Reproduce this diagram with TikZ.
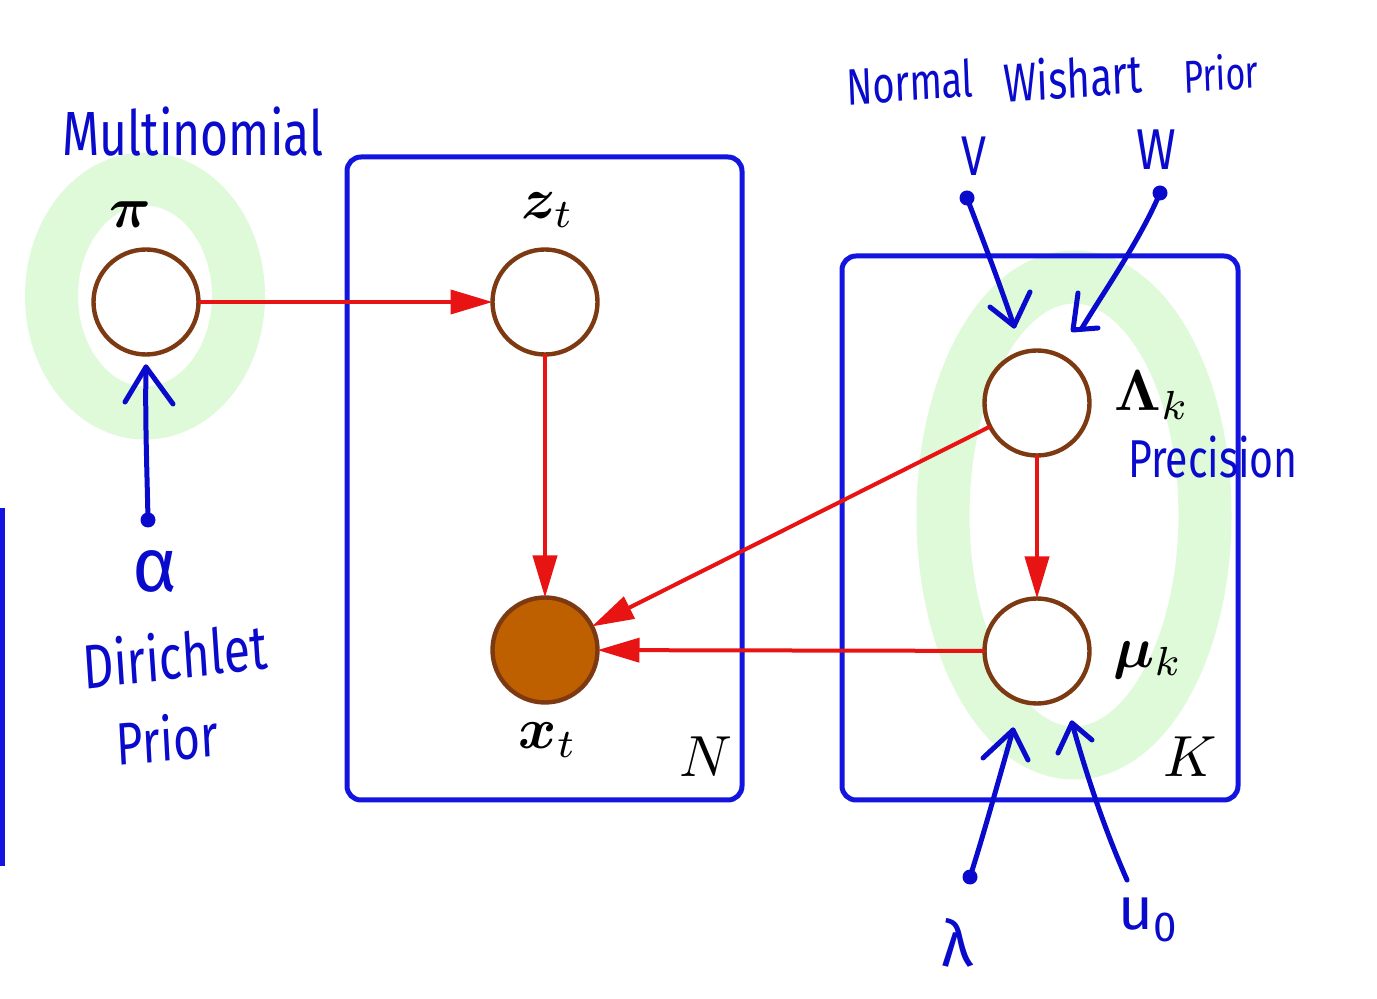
\documentclass[tikz,border=0pt]{standalone}
\usepackage{amsmath,bm}
\usepackage[no-math]{fontspec}
\newfontfamily\handfont{Fira Sans}
\usetikzlibrary{arrows.meta}
\definecolor{plateblue}{RGB}{20,20,225}
\definecolor{handblue}{RGB}{10,10,205}
\definecolor{ringgreen}{RGB}{222,250,216}
\definecolor{nodebrown}{RGB}{125,58,18}
\definecolor{obsfill}{RGB}{191,96,0}
\definecolor{edgered}{RGB}{232,20,20}
\begin{document}
\begin{tikzpicture}[x=0.5pt,y=-0.5pt,
  latent/.style={circle, draw=nodebrown, line width=2.2pt, fill=white, minimum size=52.5pt, inner sep=0pt, outer sep=0pt},
  observed/.style={latent, fill=obsfill},
  lbl/.style={scale=2.9, inner sep=0pt},
  plate/.style={draw=plateblue, line width=2.5pt, rounded corners=7pt},
  ring/.style={draw=ringgreen, line width=26.5pt},
  edge/.style={draw=edgered, line width=2pt, -{Triangle[length=21pt,width=12pt]}},
  hand/.style={text=handblue, inner sep=0pt, font=\handfont\fontsize{#1}{#1}\selectfont},
  stroke/.style={draw=handblue, line width=2.5pt, line cap=round, line join=round},
  handdot/.style={circle, fill=handblue, minimum size=7.5pt, inner sep=0pt}
]
\useasboundingbox (0,0) rectangle (1377,999);
\fill[white] (0,0) rectangle (1377,999);

% green highlight rings
\draw[ring] (145,296) ellipse [x radius=46.75pt, y radius=58.5pt];
\draw[ring] (1074,515) ellipse [x radius=65.5pt, y radius=119pt];

% plates
\draw[plate] (347,157) rectangle (742,800);
\draw[plate] (842,256) rectangle (1238,800);
\draw[draw=plateblue, line width=2.5pt] (2.5,508) -- (2.5,866);

% nodes
\node[latent] (pi) at (146,302) {};
\node[latent] (z) at (545,302) {};
\node[observed] (x) at (545,650) {};
\node[latent] (Lam) at (1037,403) {};
\node[latent] (mu) at (1037,651) {};

% math labels
\node[lbl] (pil) at (130,215) {$\bm{\pi}$};
\node[lbl] (zl) at (548,210) {$\bm{z}_t$};
\node[lbl] (xl) at (548,740) {$\bm{x}_t$};
\node[lbl] (Laml) at (1152,395) {$\mathbf{\Lambda}_k$};
\node[lbl] (mul) at (1148,660) {$\bm{\mu}_k$};
\node[lbl] (Nl) at (706,757) {$N$};
\node[lbl] (Kl) at (1190,757) {$K$};

% edges
\draw[edge] (pi) -- (z);
\draw[edge] (z) -- (x);
\draw[edge] (Lam) -- (x);
\draw[edge] (mu) -- (x);
\draw[edge] (Lam) -- (mu);

% handwritten annotations
\node[hand=24, yscale=1.3] (multi) at (193,132) {Multinomial};
\node[hand=38] (alpha) at (155,572) {α};
\node[hand=24, yscale=1.3, rotate=5] (dir) at (175,655) {Dirichlet};
\node[hand=23, yscale=1.3, rotate=4] (prl) at (167,738) {Prior};
\node[hand=19, yscale=1.35, rotate=3] (nrm) at (910,82) {Normal};
\node[hand=20, yscale=1.35, rotate=3] (wis) at (1073,77) {Wishart};
\node[hand=17, yscale=1.35, rotate=3] (pri) at (1221,73) {Prior};
\node[hand=28, xscale=0.8] (nu) at (974,156) {V};
\node[hand=24, yscale=1.2] (w) at (1156,150) {W};
\node[hand=20.5, yscale=1.3] (prec) at (1213,457) {Precision};
\node[hand=32] (lam) at (957,943) {λ};
\node[hand=30] (u0) at (1148,920) {u\textsubscript{0}};

% hand-drawn arrows
\node[handdot] (adot) at (148,520) {};
\coordinate (atip) at (146,367);
\draw[stroke] (adot.center) .. controls (147,470) and (145,420) .. (atip);
\draw[stroke] ([shift={(-21,35)}]atip) -- (atip) -- ([shift={(27,37)}]atip);

\node[handdot] (vdot) at (967,198) {};
\coordinate (vtip) at (1014,326);
\draw[stroke] (vdot.center) .. controls (985,245) and (1000,285) .. (vtip);
\draw[stroke] ([shift={(-24,-19)}]vtip) -- (vtip) -- ([shift={(16,-34)}]vtip);

\node[handdot] (wdot) at (1160,193) {};
\coordinate (wtip) at (1082,328);
\draw[stroke] (wdot.center) .. controls (1140,240) and (1105,290) .. (wtip);
\draw[stroke] ([shift={(-4,-35)}]wtip) -- ([shift={(-9,2)}]wtip) -- ([shift={(16,0)}]wtip);

\node[handdot] (ldot) at (970,877) {};
\coordinate (ltip) at (1013,730);
\draw[stroke] (ldot.center) .. controls (985,830) and (1000,775) .. (ltip);
\draw[stroke] ([shift={(-30,28)}]ltip) -- (ltip) -- ([shift={(15,30)}]ltip);

\coordinate (ubot) at (1127,880);
\coordinate (utip) at (1072,723);
\draw[stroke] (ubot) .. controls (1105,830) and (1088,780) .. (utip);
\draw[stroke] ([shift={(-14,30)}]utip) -- (utip) -- ([shift={(20,17)}]utip);
\end{tikzpicture}
\end{document}
